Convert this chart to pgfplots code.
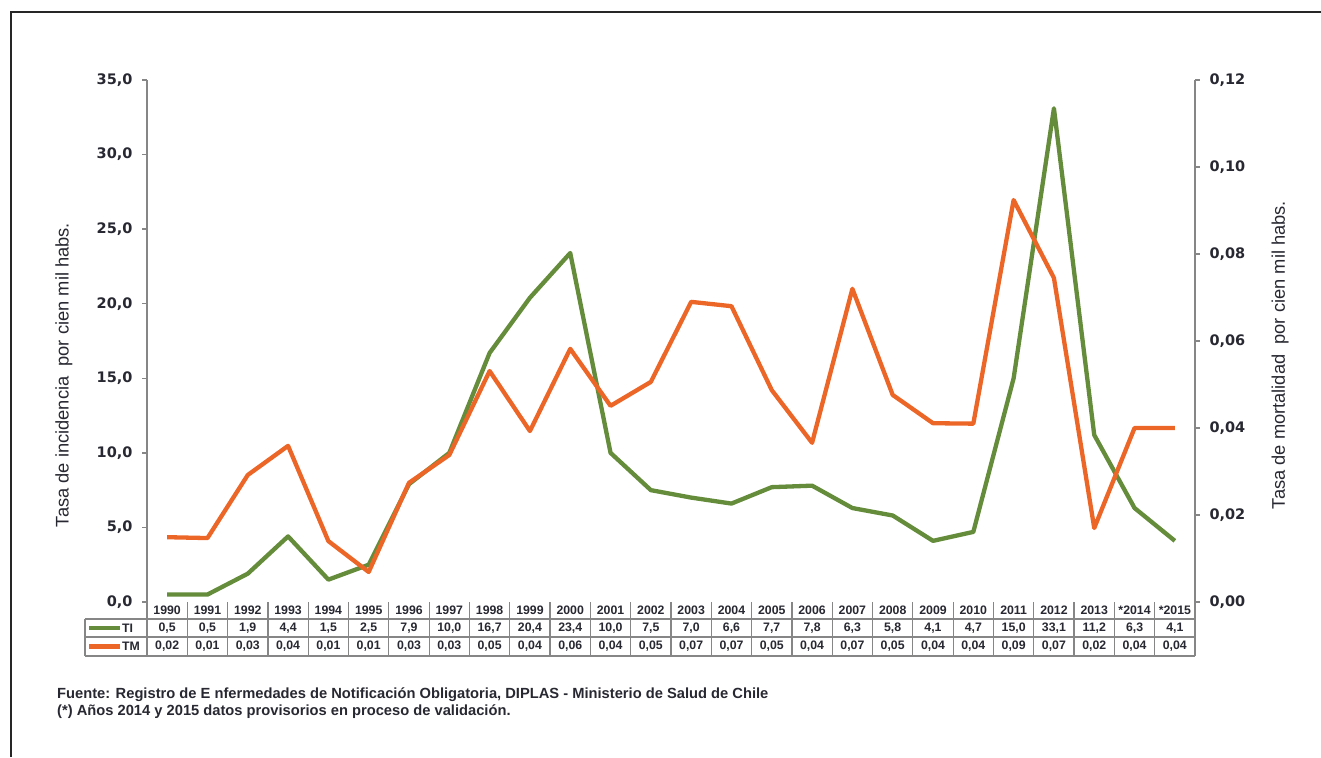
\documentclass[border=0pt]{standalone}
\usepackage{pgfplots}
\pgfplotsset{compat=1.18}
\usepackage{fontspec}
\setmainfont{Liberation Sans}
\newfontfamily\dejavu{DejaVu Sans}
\definecolor{tigreen}{RGB}{100,140,58}
\definecolor{tmorange}{RGB}{236,102,40}
\definecolor{axgray}{RGB}{134,134,134}
\definecolor{txt}{RGB}{40,40,50}
\newcommand{\tickfont}{\dejavu\bfseries\fontsize{14.5}{16}\selectfont}
\newcommand{\tabfont}{\bfseries\fontsize{12.3}{14}\selectfont}

\begin{document}
\begin{tikzpicture}[x=1pt,y=1pt]
\useasboundingbox (0,0) rectangle (1321,-757);
\draw[line width=1.5pt, black!85] (11,-757) -- (11,-12) -- (1321,-12);

% left axis
\begin{axis}[
  at={(147pt,-602pt)}, anchor=south west,
  scale only axis, width=1048pt, height=522pt,
  xmin=-0.5, xmax=25.5, ymin=0, ymax=35,
  axis x line=none, axis y line*=left,
  axis line style={axgray, line width=1.8pt},
  ytick={0,5,10,15,20,25,30,35},
  tick align=outside, major tick length=5pt,
  tick style={axgray, line width=1.5pt},
  yticklabel style={font=\tickfont, text=txt, xshift=-6pt},
  /pgf/number format/.cd, fixed, fixed zerofill, precision=1, use comma, assume math mode=true,
  clip=false,
]
\addplot[tigreen, line width=4.3pt, line join=round] coordinates {
(0,0.5) (1,0.5) (2,1.9) (3,4.4) (4,1.5) (5,2.5) (6,7.9) (7,10.0) (8,16.7) (9,20.4)
(10,23.4) (11,10.0) (12,7.5) (13,7.0) (14,6.6) (15,7.7) (16,7.8) (17,6.3) (18,5.8)
(19,4.1) (20,4.7) (21,15.0) (22,33.1) (23,11.2) (24,6.3) (25,4.1)};
\end{axis}

% right axis
\begin{axis}[
  at={(147pt,-602pt)}, anchor=south west,
  scale only axis, width=1048pt, height=522pt,
  xmin=-0.5, xmax=25.5, ymin=0, ymax=0.12,
  axis x line=none, axis y line*=right,
  axis line style={axgray, line width=1.8pt},
  ytick={0,0.02,0.04,0.06,0.08,0.10,0.12},
  tick align=outside, major tick length=5pt,
  tick style={axgray, line width=1.5pt},
  yticklabel style={font=\tickfont, text=txt, xshift=6pt},
  /pgf/number format/.cd, fixed, fixed zerofill, precision=2, use comma, assume math mode=true,
  clip=false,
]
\addplot[tmorange, line width=4.3pt, line join=round] coordinates {
(0,0.0149) (1,0.0147) (2,0.0292) (3,0.0359) (4,0.0140) (5,0.0069) (6,0.0274) (7,0.0338)
(8,0.0531) (9,0.0393) (10,0.0582) (11,0.0451) (12,0.0506) (13,0.0690) (14,0.0680)
(15,0.0487) (16,0.0366) (17,0.0720) (18,0.0476) (19,0.0411) (20,0.0410) (21,0.0924)
(22,0.0745) (23,0.0170) (24,0.0400) (25,0.0400)};
\end{axis}

% data table
\foreach \k in {0,...,26} \draw[axgray, line width=1.2pt] ({147+40.3077*\k},-602) -- ++(0,-54);
\draw[axgray, line width=1.2pt] (85,-619) -- (1195,-619);
\draw[axgray, line width=1.2pt] (85,-637) -- (1195,-637);
\draw[axgray, line width=1.2pt] (85,-656) -- (1195,-656);
\draw[axgray, line width=1.2pt] (85,-619) -- (85,-656);

\foreach \lab [count=\i from 0] in {1990,1991,1992,1993,1994,1995,1996,1997,1998,1999,2000,2001,2002,2003,2004,2005,2006,2007,2008,2009,2010,2011,2012,2013,*2014,*2015}
  \node[font=\tabfont, text=txt] at ({147+40.3077*(\i+0.5)},-610.5) {\lab};
\foreach \lab [count=\i from 0] in {{0,5},{0,5},{1,9},{4,4},{1,5},{2,5},{7,9},{10,0},{16,7},{20,4},{23,4},{10,0},{7,5},{7,0},{6,6},{7,7},{7,8},{6,3},{5,8},{4,1},{4,7},{15,0},{33,1},{11,2},{6,3},{4,1}}
  \node[font=\tabfont, text=txt] at ({147+40.3077*(\i+0.5)},-628) {\lab};
\foreach \lab [count=\i from 0] in {{0,02},{0,01},{0,03},{0,04},{0,01},{0,01},{0,03},{0,03},{0,05},{0,04},{0,06},{0,04},{0,05},{0,07},{0,07},{0,05},{0,04},{0,07},{0,05},{0,04},{0,04},{0,09},{0,07},{0,02},{0,04},{0,04}}
  \node[font=\tabfont, text=txt] at ({147+40.3077*(\i+0.5)},-646.5) {\lab};

\draw[tigreen, line width=4.3pt] (89,-628) -- (120,-628);
\node[font=\tabfont, text=txt, anchor=west, inner sep=1pt] at (121,-628) {TI};
\draw[tmorange, line width=4.3pt] (89,-646.5) -- (120,-646.5);
\node[font=\tabfont, text=txt, anchor=west, inner sep=1pt] at (121,-646.5) {TM};

% axis titles
\node[rotate=90, font=\fontsize{18.3}{20}\selectfont, text=txt] at (64,-375) {Tasa de incidencia\ \ por cien mil habs.};
\node[rotate=90, font=\fontsize{18.3}{20}\selectfont, text=txt] at (1280,-355) {Tasa de mortalidad\ \ por cien mil habs.};

% footnote
\node[anchor=base west, inner sep=0pt, font=\bfseries\fontsize{14.7}{16}\selectfont, text=txt] at (57,-698) {Fuente: Registro de E nfermedades de Notificación Obligatoria, DIPLAS - Ministerio de Salud de Chile};
\node[anchor=base west, inner sep=0pt, font=\bfseries\fontsize{14.7}{16}\selectfont, text=txt] at (57,-715) {(*) Años 2014 y 2015 datos provisorios en proceso de validación.};
\end{tikzpicture}
\end{document}
